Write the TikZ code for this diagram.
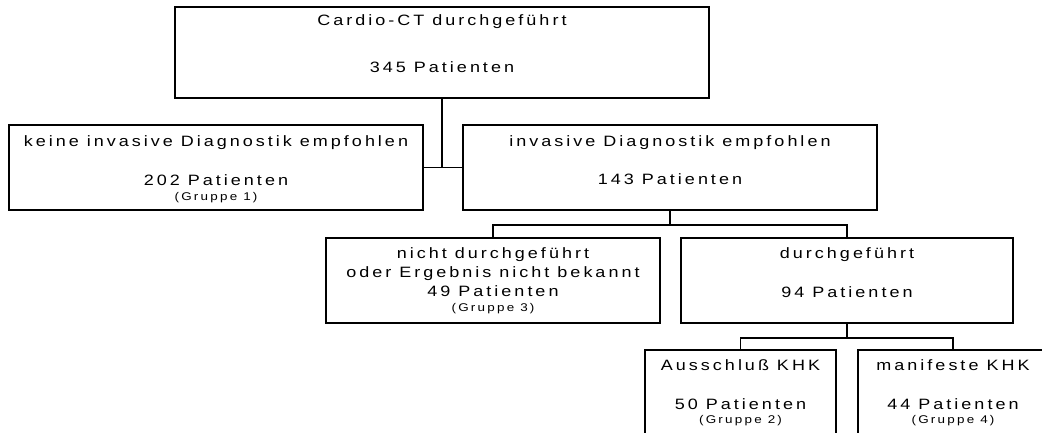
\documentclass[tikz,border=0pt]{standalone}
\usepackage{fontspec}
\newfontfamily\boxfont{Liberation Sans}[FakeStretch=1.2,LetterSpace=20]
\usetikzlibrary{positioning}

\newcommand{\grp}[1]{{\fontsize{11.2}{13}\selectfont(Gruppe #1)}}

\begin{document}
\begin{tikzpicture}[x=1pt,y=-1pt,line width=1.5pt,
                    box node/.style={draw,rectangle,inner sep=0pt},
                    text node/.style={align=center,inner sep=0pt,
                      font=\boxfont\fontsize{15}{19}\selectfont}]

  \useasboundingbox (0,0) rectangle (1042,433);

  % boxes
  \node[box node,minimum width=534,minimum height=91] (1) at (442,52.5) {};
  \node[box node,minimum width=414,minimum height=85] (2) at (216,167.5) {};
  \node[box node,minimum width=414,minimum height=85] (3) at (670,167.5) {};
  \node[box node,minimum width=334,minimum height=85] (4) at (493,280.5) {};
  \node[box node,minimum width=332,minimum height=85] (5) at (847,280.5) {};
  \node[box node,minimum width=191,minimum height=85] (6) at (740.5,392.5) {};
  \node[box node,minimum width=190,minimum height=85] (7) at (953,392.5) {};

  % texts
  \node[text node,below=8pt of 1.north] (1t)
    {Cardio-CT durchgeführt\\[28pt]345 Patienten};
  \node[text node,below=10.5pt of 2.north] (2t)
    {keine invasive Diagnostik empfohlen\\[20.5pt]202 Patienten\\[-4.5pt]\grp{1}};
  \node[text node,below=10.5pt of 3.north] (3t)
    {invasive Diagnostik empfohlen\\[19pt]143 Patienten};
  \node[text node,below=10pt of 4.north] (4t)
    {nicht durchgeführt\\oder Ergebnis nicht bekannt\\49 Patienten\\[-4pt]\grp{3}};
  \node[text node,below=10pt of 5.north] (5t)
    {durchgeführt\\[20pt]94 Patienten};
  \node[text node,below=10pt of 6.north] (6t)
    {Ausschluß KHK\\[20pt]50 Patienten\\[-5pt]\grp{2}};
  \node[text node,below=10pt of 7.north] (7t)
    {manifeste KHK\\[20pt]44 Patienten\\[-5pt]\grp{4}};

  % connectors
  \draw (1.south) -- (1.south |- 2.east);
  \draw (2.east) -- (3.west);
  \draw (3.south) -- ++(0,14) coordinate (j1);
  \draw (4.north) |- (j1) -| (5.north);
  \draw (5.south) -- ++(0,14) coordinate (j2);
  \draw (6.north) |- (j2) -| (7.north);

\end{tikzpicture}
\end{document}
